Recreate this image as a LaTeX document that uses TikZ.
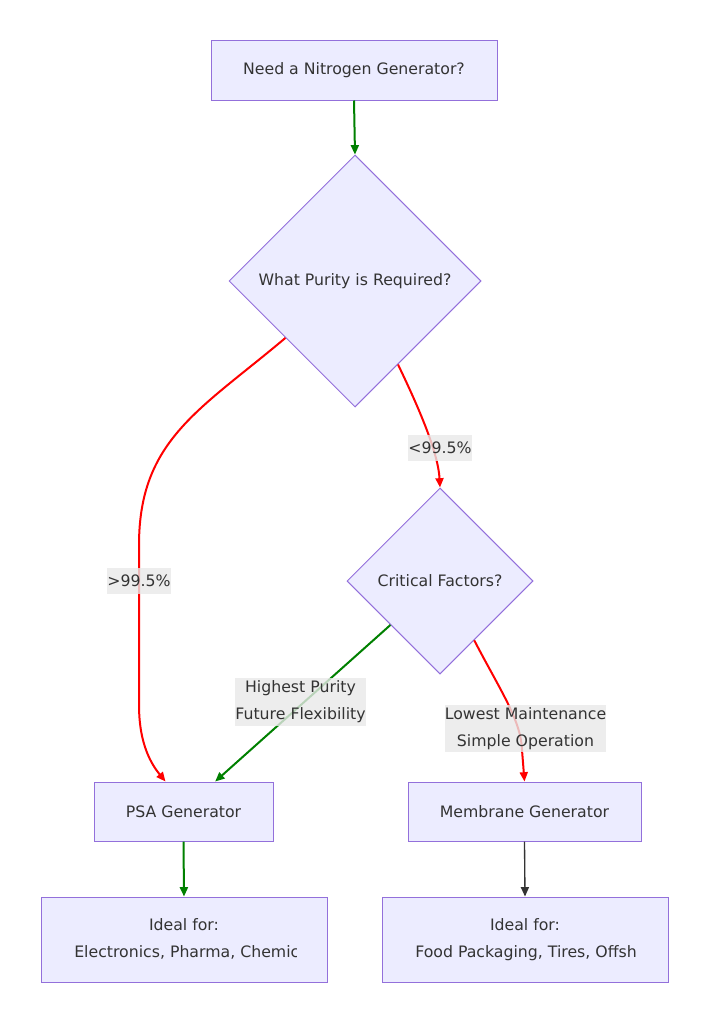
\documentclass[tikz,border=0pt]{standalone}
\usepackage{fontspec}
\setmainfont{DejaVu Sans}
\usetikzlibrary{shapes.geometric,arrows.meta,calc}
\definecolor{nodefill}{HTML}{ECECFF}
\definecolor{nodestroke}{HTML}{9370DB}
\definecolor{txt}{HTML}{333333}
\definecolor{lblbg}{HTML}{E8E8E8}
\definecolor{ggreen}{HTML}{008000}
\definecolor{rred}{HTML}{FF0000}
\begin{document}
\begin{tikzpicture}[x=0.75pt,y=-0.75pt,
  every node/.style={text=txt,font=\fontsize{11.8pt}{20.25pt}\selectfont},
  box/.style={draw=nodestroke,fill=nodefill,line width=0.75pt,rectangle,inner sep=0pt},
  dia/.style={draw=nodestroke,fill=nodefill,line width=0.75pt,diamond,inner sep=0pt,aspect=1},
  lbl/.style={fill=lblbg,fill opacity=0.8,text opacity=1,inner xsep=0pt,inner ysep=2pt,align=center},
  tip/.style={-{Triangle[length=7pt,width=6pt]}},
  gedge/.style={tip,draw=ggreen,line width=1.5pt},
  redge/.style={tip,draw=rred,line width=1.5pt},
  kedge/.style={tip,draw=txt,line width=1pt}
]
\useasboundingbox (0,0) rectangle (709,1024);

% nodes
\node[box,minimum width=286*0.75pt,minimum height=59*0.75pt] (start) at (354,70.5) {Need a Nitrogen Generator?};
\node[dia,minimum width=252*0.75pt,minimum height=252*0.75pt] (d1) at (355,281) {What Purity is Required?};
\node[dia,minimum width=186*0.75pt,minimum height=186*0.75pt] (d2) at (440,581) {Critical Factors?};
\node[box,minimum width=179*0.75pt,minimum height=59*0.75pt] (psa) at (183.5,811.5) {PSA Generator};
\node[box,minimum width=233*0.75pt,minimum height=59*0.75pt] (mem) at (524.5,811.5) {Membrane Generator};
\node[box,minimum width=286*0.75pt,minimum height=85*0.75pt] (bl) at (184,939.5) {};
\node[box,minimum width=286*0.75pt,minimum height=85*0.75pt] (br) at (525,939.5) {};

% bottom box texts
\node (bl1) at (184,925) {Ideal for:};
\node (br1) at (525,925) {Ideal for:};
\begin{scope}
  \clip (74,935) rectangle (296,970);
  \node[anchor=base west,inner sep=0pt] (bl2) at (74,957.5) {Electronics, Pharma, Chemicals};
\end{scope}
\begin{scope}
  \clip (415,935) rectangle (636,970);
  \node[anchor=base west,inner sep=0pt] (br2) at (415,957.5) {Food Packaging, Tires, Offshore};
\end{scope}

% connectors
\draw[gedge] (start.south) -- (d1.north);
\draw[redge] ($(d1.west)!0.45!(d1.south)$) .. controls (200,410) and (139,440) .. (139,545)
   -- (139,705) .. controls (139,745) and (152,765) .. ($(psa.north west)!0.4!(psa.north east)$);
\draw[redge] ($(d1.south)!0.34!(d1.east)$) .. controls (415,400) and (438,450) .. (d2.north);
\draw[gedge] ($(d2.west)!0.47!(d2.south)$) -- ($(psa.north west)!0.676!(psa.north east)$);
\draw[redge] ($(d2.south)!0.366!(d2.east)$) .. controls (500,690) and (521,720) .. (522,750) -- (mem.north);
\draw[gedge] (psa.south) -- (bl.north);
\draw[kedge] (mem.south) -- (br.north);

% edge labels
\node[lbl,minimum height=26*0.75pt] (l1) at (139,581) {>99.5\%};
\node[lbl,minimum height=26*0.75pt] (l2) at (440,447.5) {<99.5\%};
\node[lbl] (l3) at (300.5,702) {Highest Purity\\Future Flexibility};
\node[lbl] (l4) at (525.5,728.5) {Lowest Maintenance\\Simple Operation};
\end{tikzpicture}
\end{document}
